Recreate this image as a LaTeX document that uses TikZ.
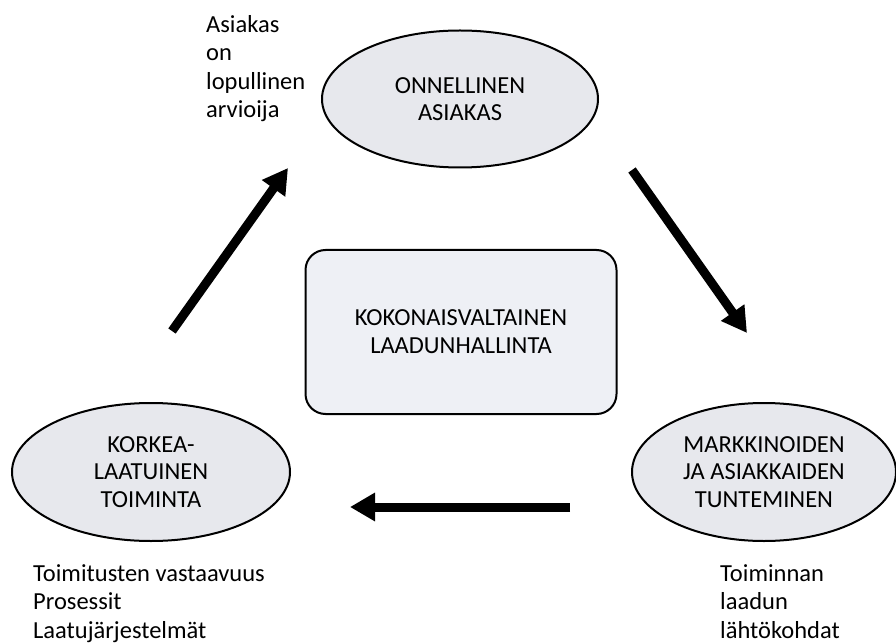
\documentclass[tikz,border=0pt]{standalone}
\usepackage{fontspec}
\setmainfont{Carlito}
\usetikzlibrary{shapes.geometric,arrows.meta}
\definecolor{ellfill}{RGB}{231,232,237}
\definecolor{boxfill}{RGB}{238,240,245}
\tikzset{
  phase/.style={ellipse, draw=black, line width=2pt, fill=ellfill,
    minimum width=#1, align=center, font=\fontsize{24.5}{27.5}\selectfont, inner sep=0pt},
  phase/.default={276pt},
  core/.style={rectangle, rounded corners=20pt, draw=black, line width=2pt, fill=boxfill,
    minimum width=311pt, minimum height=164pt, align=center, font=\fontsize{24.5}{28}\selectfont},
  note/.style={align=left, font=\fontsize{24.5}{28.5}\selectfont, inner sep=0pt},
  flow/.style={line width=9pt, -{Triangle[length=25pt,width=27pt]}}
}
\begin{document}
\begin{tikzpicture}[x=1pt,y=-1pt]
\useasboundingbox (0,0) rectangle (896,644);
% three phases of the cycle
\node[phase, minimum height=137pt] (happy) at (460,99) {ONNELLINEN\\ASIAKAS};
\node[phase=278pt, minimum height=138pt] (action) at (151,472) {KORKEA-\\LAATUINEN\\TOIMINTA};
\node[phase=264pt, minimum height=138pt] (market) at (764,472) {MARKKINOIDEN\\JA ASIAKKAIDEN\\TUNTEMINEN};
% centre box
\node[core] (tqm) at (461,332) {KOKONAISVALTAINEN\\LAADUNHALLINTA};
% side notes (anchored at the baseline of their last line)
\node[note, anchor=base west] (judge) at (206,118) {Asiakas\\on\\lopullinen\\arvioija};
\node[note, anchor=base west] (means) at (33,638) {Toimitusten vastaavuus\\Prosessit\\Laatujärjestelmät};
\node[note, anchor=base west] (basis) at (720,638) {Toiminnan\\laadun\\lähtökohdat};
% cycle arrows
\coordinate (a1s) at (632,170);
\coordinate (a1e) at (747,333);
\coordinate (a2s) at (570,507);
\coordinate (a2e) at (350,507);
\coordinate (a3s) at (172,331);
\coordinate (a3e) at (288,168);
\draw[flow] (a1s) -- (a1e);
\draw[flow] (a2s) -- (a2e);
\draw[flow] (a3s) -- (a3e);
\end{tikzpicture}
\end{document}
